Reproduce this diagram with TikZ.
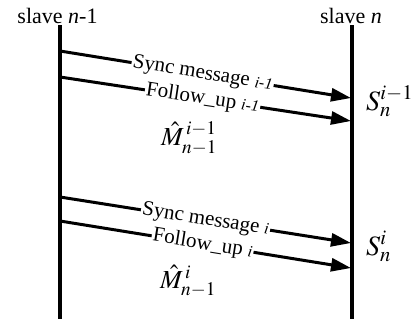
\documentclass[tikz,border=0pt]{standalone}
\usepackage{mathptmx}
\usepackage{fontspec}
\setmainfont{Liberation Serif}
\usetikzlibrary{arrows.meta}

\newcommand{\msgidx}[1]{{\fontsize{16}{16}\selectfont\textit{#1}}}

\begin{document}
\begin{tikzpicture}[
    x = 1pt,
    y = -1pt,
    >={Triangle[length=20pt, width=13pt]},
    lane/.style = {black, line width=3.2pt},
    msg/.style = {->, black, line width=3pt},
    msg_label/.style = {pos=0.49, sloped, fill=white, inner sep=1.2pt,
              font=\fontsize{21}{21}\selectfont},
    title/.style = {anchor=base, inner sep=0pt,
              font=\fontsize{22}{22}\selectfont},
    stamp/.style = {anchor=base west, inner sep=0pt},
    ]

\useasboundingbox (0,0) rectangle (414,325);

\node[title] (slave_prev) at (57.5,23){slave \textit{n}-1};
\node[title] (slave_next) at (351,23){slave \textit{n}};

\coordinate (lane_prev_top) at (60,25);
\coordinate (lane_prev_bot) at (60,319);
\coordinate (lane_next_top) at (352,25);
\coordinate (lane_next_bot) at (352,319);
\draw [lane] (lane_prev_top) -- (lane_prev_bot);
\draw [lane] (lane_next_top) -- (lane_next_bot);

\coordinate (sync_1_out) at (60,51);
\coordinate (sync_1_in) at (351,98);
\coordinate (follow_1_out) at (60,77);
\coordinate (follow_1_in) at (351,121);
\coordinate (sync_2_out) at (60,197);
\coordinate (sync_2_in) at (351,243);
\coordinate (follow_2_out) at (60,221);
\coordinate (follow_2_in) at (351,268);

\draw [msg] (sync_1_out) to node [msg_label]{Sync message \msgidx{i-1}} (sync_1_in);
\draw [msg] (follow_1_out) to node [msg_label]{Follow\_up \msgidx{i-1}} (follow_1_in);
\draw [msg] (sync_2_out) to node [msg_label, pos=0.5]{Sync message \msgidx{i}} (sync_2_in);
\draw [msg] (follow_2_out) to node [msg_label]{Follow\_up \msgidx{i}} (follow_2_in);

\node [stamp, font=\fontsize{28}{28}\selectfont] (recv_1) at (366,110){$S_n^{i-1}$};
\node [stamp, font=\fontsize{28}{28}\selectfont] (recv_2) at (366,255){$S_n^{i}$};
\node [stamp, font=\fontsize{26}{26}\selectfont] (sent_1) at (161,145){$\hat{M}_{n-1}^{\,i-1}$};
\node [stamp, font=\fontsize{26}{26}\selectfont] (sent_2) at (160,288){$\hat{M}_{n-1}^{\,i}$};


\end{tikzpicture}
\end{document}
